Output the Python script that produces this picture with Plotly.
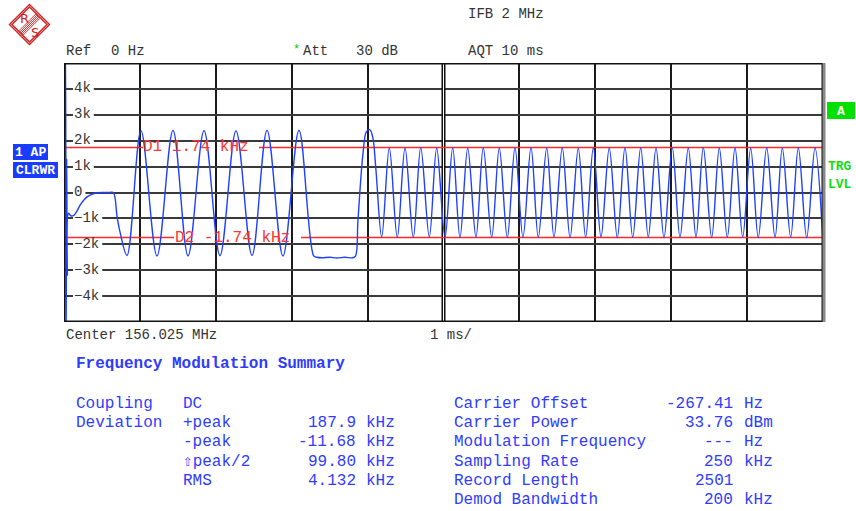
import plotly.graph_objects as go

W, H = 856, 511

# ---------------- data (time in ms, FM deviation in kHz) ----------------
intro_t = [0.0, 0.02, 0.028, 0.036, 0.044, 0.06, 0.09, 0.13, 0.17, 0.21, 0.26, 0.30, 0.36, 0.41, 0.50, 0.60, 0.65]
intro_khz = [0.3, 6.0, -6.0, 1.3, -3.2, -0.8, -0.9, -0.88, -0.72, -0.5, -0.3, -0.18, -0.08, -0.03, 0.0, 0.0, 0.0]

slow_t = [0.70, 0.74, 0.83, 1.014, 1.225, 1.436, 1.634, 1.845, 2.055, 2.266, 2.477, 2.675, 2.885, 3.096]
slow_khz = [-0.95, -1.55, -2.43, 2.39, -2.45, 2.40, -2.45, 2.39, -2.44, 2.38, -2.43, 2.40, -2.45, 2.40]

hold_t = [3.29, 3.33, 3.40, 3.50, 3.60, 3.70, 3.80, 3.84, 3.873, 3.94, 3.985, 4.032, 4.07, 4.11]
hold_khz = [-2.45, -2.50, -2.52, -2.50, -2.53, -2.50, -2.52, -2.46, -1.07, 1.53, 2.35, 2.42, 2.10, 0.87]

fast_peak_t = [4.286, 4.493, 4.700, 4.910, 5.121, 5.319, 5.524, 5.735, 5.942, 6.153,
               6.360, 6.565, 6.776, 6.974, 7.184, 7.391, 7.598, 7.800, 8.014, 8.225,
               8.423, 8.634, 8.841, 9.047, 9.258, 9.464, 9.675, 9.895]
fast_peak_khz = [1.72, 1.72, 1.74, 1.72, 1.73, 1.71, 1.73, 1.72, 1.73, 1.74,
                 1.72, 1.73, 1.71, 1.73, 1.72, 1.74, 1.73, 1.72, 1.73, 1.72,
                 1.74, 1.72, 1.73, 1.71, 1.73, 1.72, 1.73, 1.72]
fast_trough_t = [4.186, 4.391, 4.602, 4.813, 5.020, 5.217, 5.428, 5.635, 5.841, 6.047,
                 6.249, 6.456, 6.667, 6.873, 7.075, 7.290, 7.493, 7.698, 7.905, 8.116,
                 8.327, 8.533, 8.739, 8.942, 9.147, 9.368, 9.574, 9.785, 9.996]
fast_trough_khz = [-1.72, -1.73, -1.74, -1.72, -1.73, -1.74, -1.72, -1.73, -1.74, -1.72,
                   -1.73, -1.72, -1.74, -1.73, -1.72, -1.74, -1.73, -1.72, -1.74, -1.73,
                   -1.72, -1.74, -1.73, -1.72, -1.74, -1.73, -1.72, -1.74, -1.73]

ytick_vals = [4, 3, 2, 1, 0, -1, -2, -3, -4]
ytick_text = ["4k", "3k", "2k", "1k", "0", "\u22121k", "\u22122k", "\u22123k", "\u22124k"]

d1_khz = 1.74
d2_khz = -1.74
d1_label = "D1 1.74 kHz"
d2_label = "D2 -1.74 kHz"

summary_left = [("Coupling", "DC", "", ""),
                ("Deviation", "+peak", "187.9", "kHz"),
                ("", "-peak", "-11.68", "kHz"),
                ("", "\u21e7peak/2", "99.80", "kHz"),
                ("", "RMS", "4.132", "kHz")]
summary_right = [("Carrier Offset", "-267.41", "Hz"),
                 ("Carrier Power", "33.76", "dBm"),
                 ("Modulation Frequency", "---", "Hz"),
                 ("Sampling Rate", "250", "kHz"),
                 ("Record Length", "2501", ""),
                 ("Demod Bandwidth", "200", "kHz")]

# ---------------- build ----------------
pts = sorted(zip(intro_t + slow_t + hold_t + fast_peak_t + fast_trough_t,
                 intro_khz + slow_khz + hold_khz + fast_peak_khz + fast_trough_khz))
t = [p[0] for p in pts]
v = [p[1] for p in pts]

MONO = "Liberation Mono, Courier New, monospace"
X0, X1, YT, YB = 64, 823, 63, 322          # plot box in pixels
PXMS = (X1 - X0) / 10.0


def px(x):
    return x / W


def py(y):
    return 1 - y / H


fig = go.Figure()

# y tick labels drawn inside the plot (below the trace)
fig.add_trace(go.Scatter(x=[(75 - X0 - 1) / PXMS] * len(ytick_vals), y=ytick_vals, text=ytick_text,
                         mode="text", textposition="middle right",
                         textfont=dict(family=MONO, size=14, color="#333333"),
                         hoverinfo="skip", showlegend=False))

fig.add_trace(go.Scatter(x=t, y=v, mode="lines",
                         line=dict(color="#2040ff", width=1.4, shape="spline", smoothing=1.0,
                                   simplify=False),
                         hoverinfo="skip", showlegend=False))

shapes = []
# white patches behind the inside tick labels
for val, lab in zip(ytick_vals, ytick_text):
    x0 = (73 - X0) / PXMS
    x1 = (73 + len(lab) * 8.4 + 4 - X0) / PXMS
    shapes.append(dict(type="rect", xref="x", yref="y", x0=x0, x1=x1, y0=val - 0.24, y1=val + 0.24,
                       fillcolor="white", line=dict(width=0), layer="between"))
# double centre line
shapes.append(dict(type="line", xref="x", yref="y", x0=5, x1=5, y0=-5, y1=5,
                   line=dict(color="#111111", width=4), layer="between"))
shapes.append(dict(type="line", xref="x", yref="y", x0=5, x1=5, y0=-5, y1=5,
                   line=dict(color="white", width=1), layer="between"))
# display lines D1 / D2 (broken where labels sit)
for val, a, b in [(d1_khz, 143, 259), (d2_khz, 174, 301)]:
    shapes.append(dict(type="line", xref="x", yref="y", x0=0, x1=(a - X0) / PXMS, y0=val, y1=val,
                       line=dict(color="#ff2a2a", width=1.5), layer="between"))
    shapes.append(dict(type="line", xref="x", yref="y", x0=(b - X0) / PXMS, x1=10, y0=val, y1=val,
                       line=dict(color="#ff2a2a", width=1.5), layer="between"))
# frame
shapes.append(dict(type="rect", xref="x", yref="y", x0=0, x1=10, y0=-5, y1=5,
                   line=dict(color="#111111", width=3), layer="above"))
shapes.append(dict(type="line", xref="paper", yref="paper", x0=px(824), x1=px(824), y0=py(YT), y1=py(YB),
                   line=dict(color="#888888", width=3), layer="above"))


# badges
def box(x0, y0, x1, y1, color):
    shapes.append(dict(type="rect", xref="paper", yref="paper", x0=px(x0), x1=px(x1), y0=py(y1), y1=py(y0),
                       fillcolor=color, line=dict(width=0), layer="above"))


box(13, 144, 48, 160, "#1a3cff")
box(13, 162, 58, 178, "#1a3cff")
box(827, 102, 855, 119, "#00e000")


# R&S logo
def P(x, y):
    return f"{px(x)},{py(y)}"


cx, cy = 29.5, 24.5
for r in (20, 17.5):
    shapes.append(dict(type="path", xref="paper", yref="paper",
                       path=f"M {P(cx, cy - r)} L {P(cx + r, cy)} L {P(cx, cy + r)} L {P(cx - r, cy)} Z",
                       line=dict(color="#cc2222", width=1.4)))
for d in (-3.0, -1.5, 0.0, 1.5, 3.0):
    ox, oy = d * 0.707, d * 0.707
    shapes.append(dict(type="line", xref="paper", yref="paper",
                       x0=px(cx + 8.5 + ox), y0=py(cy - 8.5 + oy), x1=px(cx - 8.5 + ox), y1=py(cy + 8.5 + oy),
                       line=dict(color="#cc2222", width=0.9)))

fig.update_layout(shapes=shapes)


def txt(s, x, y, size=14, color="#333333", anchor="left", family=MONO):
    fig.add_annotation(text=s, x=px(x), y=py(y), xref="paper", yref="paper", xanchor=anchor,
                       yanchor="middle", showarrow=False, borderpad=0,
                       font=dict(family=family, size=size, color=color))


txt("R", 24, 18, 13, "#cc2222", "center", "DejaVu Sans")
txt("S", 34.5, 32, 13, "#cc2222", "center", "DejaVu Sans")

txt("IFB 2 MHz", 467, 14)
txt("Ref", 65, 51)
txt("0 Hz", 110, 51)
txt("*", 292, 50, 12, "#00cc00")
txt("Att", 302, 51)
txt("30 dB", 355, 51)
txt("AQT 10 ms", 467, 51)
txt("Center 156.025 MHz", 65, 335)
txt("1 ms/", 429, 335)

txt("<b>1 AP</b>", 30.5, 152, 13, "white", "center")
txt("<b>CLRWR</b>", 35.5, 170, 13, "white", "center")
txt("<b>A</b>", 841, 111, 13, "white", "center")
txt("<b>TRG</b>", 827, 166, 13, "#11dd11")
txt("<b>LVL</b>", 827, 184, 13, "#11dd11")

# marker labels
txt(d1_label, 142, 146.5, 16, "#ff3333")
txt(d2_label, 174, 237.5, 16, "#ff3333")

BLUE = "#2f3cff"
txt("<b>Frequency Modulation Summary</b>", 75, 364, 16, BLUE)
row_y = [404, 423, 442, 462, 481, 500]
for (a, b, c, d), y in zip(summary_left, row_y):
    if a:
        txt(a, 75, y, 16, BLUE)
    txt(b, 182, y, 16, BLUE)
    if c:
        txt(c, 357, y, 16, BLUE, "right")
    if d:
        txt(d, 365, y, 16, BLUE)
for (a, c, d), y in zip(summary_right, row_y):
    txt(a, 453, y, 16, BLUE)
    txt(c, 734, y, 16, BLUE, "right")
    if d:
        txt(d, 743, y, 16, BLUE)

fig.update_layout(
    width=W, height=H, margin=dict(l=0, r=0, t=0, b=0),
    paper_bgcolor="white", plot_bgcolor="white", showlegend=False,
    xaxis=dict(domain=[px(X0), px(X1)], range=[0, 10], dtick=1, tick0=0, showgrid=True,
               gridcolor="#1a1a1a", gridwidth=1.5, zeroline=False, showticklabels=False,
               ticks="", fixedrange=True),
    yaxis=dict(domain=[py(YB), py(YT)], range=[-5, 5], dtick=1, tick0=0, showgrid=True,
               gridcolor="#3a3a3a", gridwidth=2, zeroline=False, showticklabels=False,
               ticks="", fixedrange=True),
)

fig.write_html("out.html", config={"displayModeBar": False},
               post_script="document.body.style.margin='0';document.body.style.overflow='hidden';")
